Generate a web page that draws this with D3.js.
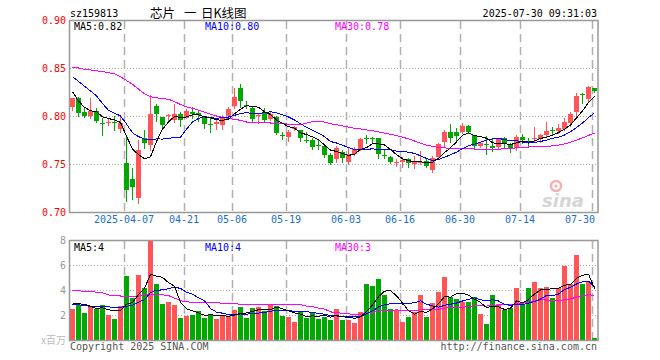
<!DOCTYPE html>
<html>
<head>
<meta charset="utf-8">
<script src="https://cdn.jsdelivr.net/npm/d3@7"></script>
<style>
  body { margin: 0; background: #fff; }
  svg { display: block; }
  text { font-family: "DejaVu Sans Mono", monospace; font-size: 10px; }
</style>
</head>
<body>
<div id="chart"></div>
<script>
// trading days shown on the chart
const dates = [
  "2025-03-24","2025-03-25","2025-03-26","2025-03-27","2025-03-28","2025-03-31","2025-04-01","2025-04-02","2025-04-03","2025-04-07",
  "2025-04-08","2025-04-09","2025-04-10","2025-04-11","2025-04-14","2025-04-15","2025-04-16","2025-04-17","2025-04-18","2025-04-21",
  "2025-04-22","2025-04-23","2025-04-24","2025-04-25","2025-04-28","2025-04-29","2025-04-30","2025-05-06","2025-05-07","2025-05-08",
  "2025-05-09","2025-05-12","2025-05-13","2025-05-14","2025-05-15","2025-05-16","2025-05-19","2025-05-20","2025-05-21","2025-05-22",
  "2025-05-23","2025-05-26","2025-05-27","2025-05-28","2025-05-29","2025-05-30","2025-06-03","2025-06-04","2025-06-05","2025-06-06",
  "2025-06-09","2025-06-10","2025-06-11","2025-06-12","2025-06-13","2025-06-16","2025-06-17","2025-06-18","2025-06-19","2025-06-20",
  "2025-06-23","2025-06-24","2025-06-25","2025-06-26","2025-06-27","2025-06-30","2025-07-01","2025-07-02","2025-07-03","2025-07-04",
  "2025-07-07","2025-07-08","2025-07-09","2025-07-10","2025-07-11","2025-07-14","2025-07-15","2025-07-16","2025-07-17","2025-07-18",
  "2025-07-21","2025-07-22","2025-07-23","2025-07-24","2025-07-25","2025-07-28","2025-07-29","2025-07-30"
];

const opens = [
  0.8097,0.8184,0.8038,0.8003,0.8052,0.7924,0.7940,0.7935,0.7861,0.7510,
  0.7344,0.7142,0.7774,0.7698,0.8108,0.7993,0.8010,0.7958,0.8021,0.7983,
  0.8038,0.8028,0.7993,0.7920,0.7913,0.7906,0.8003,0.8104,0.8288,0.8118,
  0.8087,0.8010,0.8045,0.7969,0.7993,0.7806,0.7785,0.7861,0.7854,0.7746,
  0.7750,0.7698,0.7687,0.7594,0.7552,0.7628,0.7524,0.7604,0.7656,0.7771,
  0.7767,0.7774,0.7597,0.7576,0.7514,0.7517,0.7549,0.7496,0.7514,0.7531,
  0.7437,0.7569,0.7733,0.7830,0.7830,0.7830,0.7896,0.7802,0.7688,0.7705,
  0.7691,0.7681,0.7767,0.7705,0.7670,0.7785,0.7733,0.7764,0.7760,0.7802,
  0.7858,0.7844,0.7865,0.7924,0.8038,0.8226,0.8177,0.8288
];
const highs = [
  0.8190,0.8200,0.8097,0.8184,0.8087,0.7976,0.7980,0.8000,0.8010,0.7802,
  0.7455,0.7750,0.7854,0.8219,0.8122,0.7993,0.8017,0.8122,0.8040,0.8069,
  0.8090,0.8062,0.8000,0.7976,0.7983,0.8010,0.8097,0.8288,0.8330,0.8156,
  0.8097,0.8028,0.8080,0.8038,0.8000,0.7837,0.7854,0.7896,0.7858,0.7837,
  0.7774,0.7750,0.7690,0.7611,0.7691,0.7646,0.7670,0.7681,0.7767,0.7802,
  0.7785,0.7774,0.7656,0.7580,0.7552,0.7576,0.7559,0.7583,0.7635,0.7566,
  0.7583,0.7715,0.7854,0.7913,0.7871,0.7924,0.7906,0.7802,0.7733,0.7795,
  0.7760,0.7774,0.7785,0.7715,0.7802,0.7809,0.7767,0.7889,0.7809,0.7941,
  0.7882,0.7913,0.7983,0.8038,0.8236,0.8236,0.8316,0.8292
];
const lows = [
  0.8060,0.8000,0.7993,0.7976,0.7941,0.7802,0.7906,0.7854,0.7837,0.7115,
  0.7135,0.7097,0.7663,0.7646,0.7951,0.7878,0.7958,0.7941,0.7899,0.7976,
  0.7983,0.7948,0.7878,0.7837,0.7865,0.7865,0.7983,0.8087,0.8090,0.8080,
  0.7934,0.7924,0.7941,0.7958,0.7813,0.7760,0.7743,0.7854,0.7743,0.7733,
  0.7656,0.7656,0.7576,0.7496,0.7517,0.7517,0.7500,0.7594,0.7646,0.7715,
  0.7726,0.7559,0.7559,0.7507,0.7483,0.7472,0.7472,0.7462,0.7496,0.7472,
  0.7413,0.7559,0.7681,0.7733,0.7740,0.7820,0.7820,0.7663,0.7681,0.7604,
  0.7635,0.7663,0.7670,0.7628,0.7646,0.7715,0.7681,0.7733,0.7733,0.7785,
  0.7809,0.7819,0.7854,0.7899,0.7976,0.8132,0.8160,0.8253
];
const closes = [
  0.8184,0.8035,0.8003,0.8052,0.7951,0.7920,0.7941,0.7932,0.7924,0.7229,
  0.7257,0.7646,0.7722,0.8021,0.8021,0.7906,0.8014,0.8021,0.7958,0.8052,
  0.8017,0.8010,0.7917,0.7917,0.7941,0.7993,0.8069,0.8194,0.8160,0.8114,
  0.7972,0.8014,0.7958,0.8021,0.7826,0.7799,0.7837,0.7882,0.7774,0.7743,
  0.7681,0.7694,0.7594,0.7514,0.7670,0.7566,0.7604,0.7656,0.7760,0.7767,
  0.7764,0.7604,0.7594,0.7517,0.7517,0.7542,0.7507,0.7531,0.7517,0.7483,
  0.7559,0.7705,0.7830,0.7767,0.7792,0.7896,0.7837,0.7691,0.7715,0.7701,
  0.7670,0.7767,0.7705,0.7670,0.7785,0.7750,0.7730,0.7767,0.7802,0.7844,
  0.7854,0.7871,0.7941,0.8021,0.8212,0.8222,0.8305,0.8260
];

// volume, millions
const volumes = [
  2.48,2.80,2.16,2.67,2.48,2.80,2.00,1.68,2.72,5.15,
  3.39,5.20,4.20,8.30,4.50,2.88,3.07,2.80,1.79,1.95,
  2.00,2.32,1.79,2.05,1.68,2.00,1.95,2.40,2.67,1.79,
  2.59,2.67,2.32,2.80,2.75,1.95,1.87,1.47,2.32,1.79,
  2.21,1.68,1.87,1.60,2.48,1.60,1.60,1.39,2.21,4.48,
  4.32,4.91,3.60,2.48,2.37,1.44,1.87,2.21,3.60,1.87,
  2.96,3.84,5.04,3.44,3.31,3.07,3.07,3.47,2.08,1.28,
  3.60,2.85,2.40,2.59,4.19,2.80,4.19,4.64,4.19,4.27,
  3.39,4.13,5.95,4.45,6.80,4.51,4.67,0.13
];

// moving-average values at the left edge (history before the window)
const priceMa5Lead = [0.8253,0.8156,0.8090,0.8055];
const priceMa10Lead = [0.841,0.836,0.831,0.826,0.821,0.813,0.806,0.803,0.800];
const priceMa30Lead = [
  0.851,0.850,0.8486,0.848,0.847,0.8465,0.845,0.844,0.841,0.837,
  0.833,0.828,0.823,0.820,0.819,0.818,0.8175,0.815,0.812,0.8095,
  0.808,0.806,0.804,0.802,0.800,0.7985,0.7975,0.7965,0.7955
];
const volMa5Lead = [2.90,2.90,2.85,2.70];
const volMa10Lead = [2.85,2.82,2.75,2.70,2.67,2.65,2.65,2.60,2.62];
const volMa30Lead = [
  3.95,3.93,3.90,3.88,3.82,3.77,3.60,3.55,3.52,3.52,
  3.52,3.52,3.62,3.68,3.68,3.62,3.55,3.35,3.15,3.05,
  3.02,3.00,3.00,2.98,2.97,2.95,2.93,2.92,2.85
];

const tickDates = ["2025-04-07","2025-04-21","2025-05-06","2025-05-19","2025-06-03","2025-06-16","2025-06-30","2025-07-14","2025-07-30"];
const tickLabels = ["2025-04-07","04-21","05-06","05-19","06-03","06-16","06-30","07-14","07-30"];
const priceTicks = [0.70, 0.75, 0.80, 0.85, 0.90];
const volTicks = [2, 4, 6, 8];

const W = 660, H = 360;
const left = 70, right = 598;
const red = "#ff5555", green = "#00a800";

function movingAvg(vals, n, lead) {
  return vals.map((v, i) => {
    if (i < n - 1) return lead[i];
    return d3.mean(vals.slice(i - n + 1, i + 1));
  });
}

const svg = d3.select("#chart").append("svg").attr("width", W).attr("height", H);

const x = d3.scaleBand().domain(dates).range([left, left + dates.length * 6]).padding(0);
const cx = d => x(d) + 2.5;
const y = d3.scaleLinear().domain([0.70, 0.90]).range([212, 20]);
const yv = d3.scaleLinear().domain([0, 8]).range([340, 240]);

// header
svg.append("text").attr("x", 70).attr("y", 16.5).text("sz159813");
const title = svg.append("text").attr("y", 17.5)
  .style("font-family", "'Noto Sans CJK SC'").style("font-size", "12.5px");
title.append("tspan").attr("x", 150).text("芯片");
title.append("tspan").attr("x", 184).text("一");
title.append("tspan").attr("x", 201).text("日K线图");
svg.append("text").attr("x", 597).attr("y", 16.5).attr("text-anchor", "end").text("2025-07-30 09:31:03");

// ---- price panel ----
const g = svg.append("g");
g.selectAll(".hgrid").data(priceTicks.filter(t => t > 0.70 && t < 0.90)).join("line")
  .attr("x1", left).attr("x2", right)
  .attr("y1", d => Math.round(y(d)) + 0.5).attr("y2", d => Math.round(y(d)) + 0.5)
  .attr("stroke", "#aaa").attr("stroke-dasharray", "1,2");
g.selectAll(".vgrid").data(tickDates).join("line")
  .attr("x1", d => x(d) + 0.5).attr("x2", d => x(d) + 0.5)
  .attr("y1", 21).attr("y2", 212)
  .attr("stroke", "#b0b0b0").attr("stroke-width", 1.5).attr("stroke-dasharray", "8,5");

g.selectAll(".ylab").data(priceTicks).join("text")
  .attr("x", 66).attr("y", d => y(d) + 3.5).attr("text-anchor", "end")
  .attr("fill", "#ff0000").text(d => d.toFixed(2));

g.selectAll(".xlab").data(tickDates).join("text")
  .attr("x", (d, i) => i == tickDates.length - 1 ? x(d) + 3 : x(d))
  .attr("y", 222.5)
  .attr("text-anchor", (d, i) => i == tickDates.length - 1 ? "end" : "middle")
  .attr("fill", "#1a6fd0").text((d, i) => tickLabels[i]);

// sina watermark
const wm = g.append("g").attr("opacity", 0.35);
wm.append("circle").attr("cx", 556).attr("cy", 186).attr("r", 5).attr("fill", "none").attr("stroke", "#e02020").attr("stroke-width", 2.5);
wm.append("circle").attr("cx", 556).attr("cy", 186).attr("r", 1.5).attr("fill", "#e02020");
wm.append("text").attr("x", 563).attr("y", 207).attr("text-anchor", "middle")
  .style("font-family", "'DejaVu Sans'").style("font-size", "18px").style("font-weight", "bold").style("font-style", "italic")
  .attr("fill", "#888").text("sina");

// wicks
g.selectAll(".wick").data(dates).join("line")
  .attr("x1", d => cx(d)).attr("x2", d => cx(d))
  .attr("y1", (d, i) => Math.round(y(highs[i])))
  .attr("y2", (d, i) => Math.round(y(lows[i])) + 1)
  .attr("stroke", (d, i) => closes[i] >= opens[i] ? red : green);
// bodies
g.selectAll(".body").data(dates).join("rect")
  .attr("x", d => x(d))
  .attr("width", 5)
  .attr("y", (d, i) => Math.round(y(Math.max(opens[i], closes[i]))))
  .attr("height", (d, i) => Math.max(1, Math.round(y(Math.min(opens[i], closes[i]))) - Math.round(y(Math.max(opens[i], closes[i])))))
  .attr("fill", (d, i) => closes[i] >= opens[i] ? red : green)
  .attr("shape-rendering", "crispEdges");

const ma5 = movingAvg(closes, 5, priceMa5Lead);
const ma10 = movingAvg(closes, 10, priceMa10Lead);
const ma30 = movingAvg(closes, 30, priceMa30Lead);
const priceLine = d3.line().x((d, i) => cx(dates[i])).y(d => y(d));
[[ma30, "#ff00ff"], [ma10, "#0000ff"], [ma5, "#000000"]].forEach(([s, c]) => {
  g.append("path").attr("d", priceLine(s)).attr("fill", "none").attr("stroke", c)
    .attr("stroke-width", 1).attr("shape-rendering", "crispEdges");
});

g.append("rect").attr("x", left - 0.5).attr("y", 20.5).attr("width", right - left + 0.5).attr("height", 192)
  .attr("fill", "none").attr("stroke", "#999").attr("stroke-width", 1.5);

g.append("text").attr("x", 74).attr("y", 29.5).attr("fill", "#000").text("MA5:" + ma5[ma5.length - 1].toFixed(2));
g.append("text").attr("x", 205).attr("y", 29.5).attr("fill", "#0000ff").text("MA10:" + ma10[ma10.length - 1].toFixed(2));
g.append("text").attr("x", 335).attr("y", 29.5).attr("fill", "#ff00ff").text("MA30:" + ma30[ma30.length - 1].toFixed(2));

// ---- volume panel ----
const gv = svg.append("g");
gv.selectAll(".hgrid").data(volTicks.filter(t => t < 8)).join("line")
  .attr("x1", left).attr("x2", right)
  .attr("y1", d => Math.round(yv(d)) + 0.5).attr("y2", d => Math.round(yv(d)) + 0.5)
  .attr("stroke", "#aaa").attr("stroke-dasharray", "1,2");
gv.selectAll(".vgrid").data(tickDates).join("line")
  .attr("x1", d => x(d) + 0.5).attr("x2", d => x(d) + 0.5)
  .attr("y1", 241).attr("y2", 340)
  .attr("stroke", "#b0b0b0").attr("stroke-width", 1.5).attr("stroke-dasharray", "8,5");
gv.selectAll(".ylab").data(volTicks).join("text")
  .attr("x", 66).attr("y", d => yv(d) + 3.5).attr("text-anchor", "end")
  .attr("fill", "#999").text(d => d);

gv.selectAll(".vbar").data(dates).join("rect")
  .attr("x", d => x(d)).attr("width", 5)
  .attr("y", (d, i) => Math.round(yv(Math.min(volumes[i], 8))))
  .attr("height", (d, i) => 340 - Math.round(yv(Math.min(volumes[i], 8))))
  .attr("fill", (d, i) => closes[i] >= opens[i] ? red : green)
  .attr("shape-rendering", "crispEdges");

const vma5 = movingAvg(volumes, 5, volMa5Lead);
const vma10 = movingAvg(volumes, 10, volMa10Lead);
const vma30 = movingAvg(volumes, 30, volMa30Lead);
const volLine = d3.line().x((d, i) => cx(dates[i])).y(d => yv(d));
[[vma30, "#ff00ff"], [vma10, "#0000ff"], [vma5, "#000000"]].forEach(([s, c]) => {
  gv.append("path").attr("d", volLine(s)).attr("fill", "none").attr("stroke", c)
    .attr("stroke-width", 1).attr("shape-rendering", "crispEdges");
});

gv.append("rect").attr("x", left - 0.5).attr("y", 240.5).attr("width", right - left + 0.5).attr("height", 100)
  .attr("fill", "none").attr("stroke", "#999").attr("stroke-width", 1.5);

// the panel shows whole millions, cut down
gv.append("text").attr("x", 74).attr("y", 250.5).attr("fill", "#000").text("MA5:" + Math.floor(vma5[vma5.length - 1]));
gv.append("text").attr("x", 205).attr("y", 250.5).attr("fill", "#0000ff").text("MA10:" + Math.floor(vma10[vma10.length - 1]));
gv.append("text").attr("x", 335).attr("y", 250.5).attr("fill", "#ff00ff").text("MA30:" + Math.floor(vma30[vma30.length - 1]));

// footer
svg.append("text").attr("x", 66).attr("y", 344).attr("text-anchor", "end").attr("fill", "#bbb")
  .style("font-family", "'Noto Sans CJK SC'").style("font-size", "10px").text("x百万");
svg.append("text").attr("x", 70).attr("y", 349.5).attr("fill", "#555").text("Copyright 2025 SINA.COM");
svg.append("text").attr("x", 597).attr("y", 349.5).attr("text-anchor", "end").attr("fill", "#555").text("http://finance.sina.com.cn");
</script>
</body>
</html>
